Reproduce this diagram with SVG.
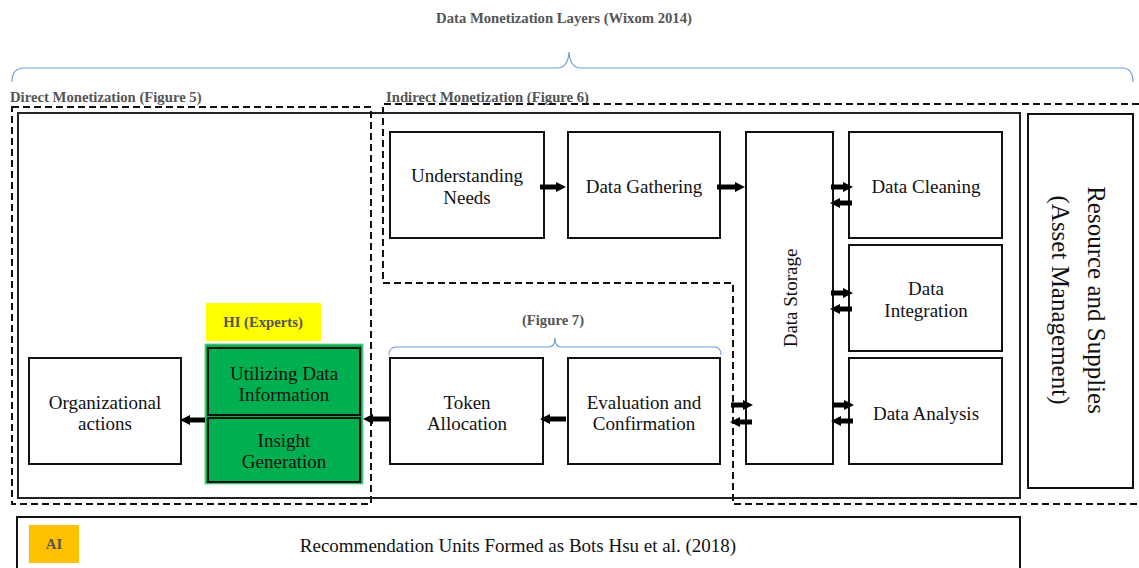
<svg xmlns="http://www.w3.org/2000/svg" width="1139" height="568" viewBox="0 0 1139 568" font-family="'Liberation Serif','DejaVu Serif',serif">
<defs>
<style>
text{font-family:"Liberation Serif","Times New Roman",serif}
.lbl{font-size:19px;fill:#111;text-anchor:middle}
.hdr{font-size:14.7px;font-weight:bold;fill:#555}
.box{fill:#fff;stroke:#111;stroke-width:2}
.dash{fill:none;stroke:#111;stroke-width:2;stroke-dasharray:7,4}
.brace{fill:none;stroke:#6fa0d8;stroke-width:1.2}
.arr{stroke:#000;stroke-width:5;marker-end:url(#ah)}
</style>
<marker id="ah" viewBox="0 0 10 10" refX="2" refY="5" markerWidth="2" markerHeight="2.2" orient="auto" markerUnits="strokeWidth">
<path d="M0,0 L10,5 L0,10 Z" fill="#000"/>
</marker>
</defs>
<rect width="1139" height="568" fill="#fff"/>

<g id="title">
<text class="hdr" x="564" y="23" text-anchor="middle">Data Monetization Layers (Wixom 2014)</text>
<path class="brace" d="M12,82 Q12,68 24,68 L557,68 Q568,68 569,52 Q570,68 581,68 L1122,68 Q1133,68 1133,82"/>
</g>

<g id="layers">
<text class="hdr" x="10" y="102">Direct Monetization (Figure 5)</text>
<text class="hdr" x="386" y="102">Indirect Monetization (Figure 6)</text>
<rect x="18" y="113" width="1002" height="385" fill="none" stroke="#222" stroke-width="2"/>
<path class="dash" d="M12,107 L371,107 L371,504 L12,504 Z"/>
<path class="dash" d="M1139,104 L383,104 L383,283 L733,283 L733,504 L1139,504"/>
</g>

<g id="resource">
<rect class="box" x="1028" y="114" width="105" height="374"/>
<g transform="translate(1080,300) rotate(90)">
<text class="lbl" style="font-size:25px" x="0" y="-8">Resource and Supplies</text>
<text class="lbl" style="font-size:25px" x="0" y="28">(Asset Management)</text>
</g>
</g>

<g id="understanding">
<rect class="box" x="390" y="132" width="154" height="106"/>
<text class="lbl" x="467" y="182">Understanding</text>
<text class="lbl" x="467" y="204">Needs</text>
</g>
<g id="gathering">
<rect class="box" x="568" y="132" width="152" height="106"/>
<text class="lbl" x="644" y="193">Data Gathering</text>
</g>
<g id="storage">
<rect class="box" x="746" y="132" width="87" height="332"/>
<text class="lbl" transform="translate(791,298) rotate(-90)" x="0" y="6">Data Storage</text>
</g>
<g id="cleaning">
<rect class="box" x="849" y="132" width="153" height="106"/>
<text class="lbl" x="926" y="193">Data Cleaning</text>
</g>
<g id="integration">
<rect class="box" x="849" y="245" width="153" height="106"/>
<text class="lbl" x="926" y="295">Data</text>
<text class="lbl" x="926" y="317">Integration</text>
</g>
<g id="analysis">
<rect class="box" x="849" y="358" width="153" height="106"/>
<text class="lbl" x="926" y="420">Data Analysis</text>
</g>
<g id="evaluation">
<rect class="box" x="568" y="358" width="152" height="106"/>
<text class="lbl" x="644" y="409">Evaluation and</text>
<text class="lbl" x="644" y="430">Confirmation</text>
</g>
<g id="token">
<rect class="box" x="390" y="358" width="153" height="106"/>
<text class="lbl" x="467" y="409">Token</text>
<text class="lbl" x="467" y="430">Allocation</text>
</g>
<g id="figure7">
<text class="hdr" x="553" y="325" text-anchor="middle">(Figure 7)</text>
<path class="brace" d="M389,355 Q389,347 396,347 L549,347 Q555,347 555,338 Q555,347 561,347 L714,347 Q721,347 721,355"/>
</g>
<g id="hi">
<rect x="206" y="303" width="115" height="38" fill="#ffff00"/>
<text class="hdr" x="263" y="327" text-anchor="middle">HI (Experts)</text>
</g>
<g id="human">
<rect x="205" y="344" width="158" height="140" fill="#00b050" stroke="#7fd39a" stroke-width="1"/>
<rect x="208" y="348" width="152" height="67" fill="#00b050" stroke="#111" stroke-width="2"/>
<text class="lbl" x="284" y="380">Utilizing Data</text>
<text class="lbl" x="284" y="401">Information</text>
<rect x="208" y="418" width="152" height="64" fill="#00b050" stroke="#111" stroke-width="2"/>
<text class="lbl" x="284" y="447">Insight</text>
<text class="lbl" x="284" y="468">Generation</text>
</g>
<g id="organizational">
<rect class="box" x="29" y="358" width="152" height="106"/>
<text class="lbl" x="105" y="409">Organizational</text>
<text class="lbl" x="105" y="430">actions</text>
</g>
<g id="ai">
<rect class="box" x="17" y="517" width="1003" height="60"/>
<rect x="29" y="525" width="50" height="38" fill="#ffc000"/>
<text class="hdr" x="54" y="549" text-anchor="middle">AI</text>
<text class="lbl" x="518" y="552">Recommendation Units Formed as Bots Hsu et al. (2018)</text>
</g>

<g id="connectors">
<line class="arr" x1="540" y1="187" x2="558" y2="187"/>
<line class="arr" x1="717" y1="187" x2="737" y2="187"/>
<line class="arr" x1="831" y1="187" x2="845" y2="187"/>
<line class="arr" x1="852" y1="203" x2="838" y2="203"/>
<line class="arr" x1="831" y1="293" x2="845" y2="293"/>
<line class="arr" x1="852" y1="309" x2="838" y2="309"/>
<line class="arr" x1="832" y1="405" x2="846" y2="405"/>
<line class="arr" x1="853" y1="421" x2="839" y2="421"/>
<line class="arr" x1="731" y1="405" x2="745" y2="405"/>
<line class="arr" x1="752" y1="422" x2="738" y2="422"/>
<line class="arr" x1="566" y1="419" x2="548" y2="419"/>
<line class="arr" x1="389" y1="419" x2="371" y2="419"/>
<line class="arr" x1="205" y1="420" x2="188" y2="420"/>
</g>
</svg>
